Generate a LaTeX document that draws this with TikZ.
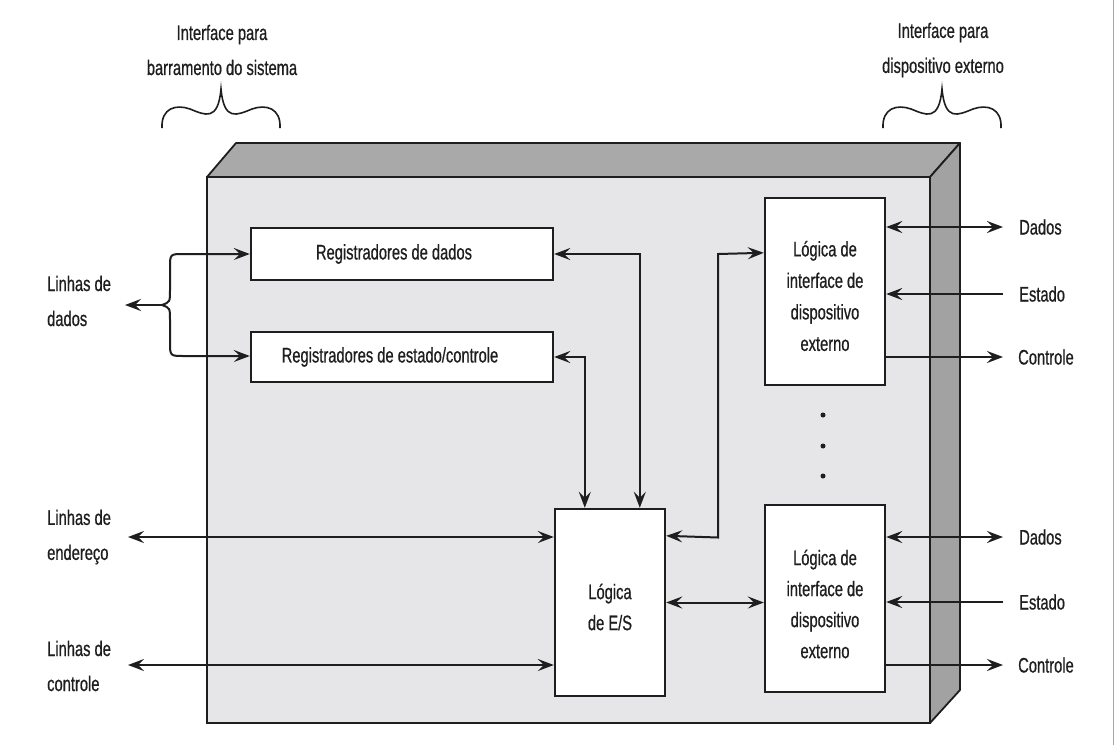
\documentclass[tikz,border=0pt]{standalone}
\usepackage{fontspec}
\setmainfont{Liberation Sans}[FakeStretch=0.70,FakeBold=0.6]
\usetikzlibrary{arrows.meta,calc}
\definecolor{frontc}{HTML}{E6E6E8}
\definecolor{topc}{HTML}{A9A9AA}
\definecolor{sidec}{HTML}{A2A2A3}
\definecolor{inkc}{HTML}{1E1E1E}
\tikzset{
  box/.style={draw=inkc,line width=2.4pt,fill=white,inner sep=0pt},
  conn/.style={draw=inkc,line width=2pt},
  tipA/.tip={Stealth[length=16pt,width=12pt,inset=6pt]},
  lbl/.style={text=inkc,font=\fontsize{21}{35}\selectfont,inner sep=0pt},
}
\begin{document}
\begin{tikzpicture}[x=1pt,y=-1pt]
\useasboundingbox (0,0) rectangle (1115,745);
\fill[white] (0,0) rectangle (1115,745);
\draw[gray!70,line width=1pt] (1113.5,0) -- (1113.5,745);
% 3D box
\filldraw[fill=topc,draw=inkc,line width=1.8pt,line join=round] (207,177) -- (236,143) -- (960,143) -- (930,177) -- cycle;
\filldraw[fill=sidec,draw=inkc,line width=1.8pt,line join=round] (930,177) -- (960,143) -- (960,690) -- (930,723) -- cycle;
\filldraw[fill=frontc,draw=inkc,line width=2.4pt] (207,177) rectangle (930,723);
% braces
\draw[inkc,line width=1.6pt] (162,128) .. controls (161,108) and (176,104) .. (190,109) .. controls (205,115) and (218,122) .. (221,89) .. controls (224,122) and (237,115) .. (252,109) .. controls (266,104) and (281,108) .. (280,128);
\draw[inkc,line width=1.6pt] (883,128) .. controls (882,108) and (897,104) .. (911,109) .. controls (926,115) and (939,122) .. (942,89) .. controls (945,122) and (958,115) .. (973,109) .. controls (987,104) and (1002,108) .. (1001,128);
\node[lbl,align=center] (tl) at (222,50) {Interface para\\barramento do sistema};
\node[lbl,align=center] (tr) at (943,50) {Interface para\\dispositivo externo};
% inner boxes
\node[box,minimum width=302pt,minimum height=52pt] (reg1) at (402,254) {};
\node[lbl] at ($(reg1.center)+(-8,0)$) {Registradores de dados};
\node[box,minimum width=302pt,minimum height=50pt] (reg2) at (402,357) {};
\node[lbl] at ($(reg2.center)+(-12,0)$) {Registradores de estado/controle};
\node[box,minimum width=110pt,minimum height=187pt] (es) at (610,602.5) {};
\node[lbl,align=center,font=\fontsize{21}{31}\selectfont] at (610,607) {Lógica\\de E/S};
\node[box,minimum width=120pt,minimum height=187pt] (ext1) at (825,291.5) {};
\node[lbl,align=center,font=\fontsize{21}{31.5}\selectfont] at (825,296) {Lógica de\\interface de\\dispositivo\\externo};
\node[box,minimum width=120pt,minimum height=187pt] (ext2) at (825,598.5) {};
\node[lbl,align=center,font=\fontsize{21}{31}\selectfont] at (825,604) {Lógica de\\interface de\\dispositivo\\externo};
% dots
\foreach \yy in {415,446,476} \fill[inkc] (823,\yy) circle (2.5pt);
% left labels
\node[lbl,align=left,anchor=west] (ld) at (47,301) {Linhas de\\dados};
\node[lbl,align=left,anchor=west] (le) at (47,537) {Linhas de\\endereço};
\node[lbl,align=left,anchor=west] (lc) at (47,666) {Linhas de\\controle};
\coordinate (dj) at (162,305);
\coordinate (dt) at (125,305);
\coordinate (at) at (128,537);
\coordinate (ct) at (128,665);
\draw[conn,-tipA] (dj) -- (dt);
\draw[conn,-tipA] (dj) .. controls (170,302) .. (170,290) -- (170,268) .. controls (170,254) .. (184,254) -- (reg1.west);
\draw[conn,-tipA] (dj) .. controls (170,308) .. (170,320) -- (170,342) .. controls (170,356) .. (184,356) -- ($(reg2.west)+(0,-1)$);
\draw[conn,tipA-tipA] (at) -- (at -| es.west);
\draw[conn,tipA-tipA] (ct) -- (ct -| es.west);
% inner connectors
\draw[conn,tipA-tipA] (reg1.east) -| ($(es.north west)+(86,0)$);
\draw[conn,tipA-tipA] (reg2.east) -| ($(es.north west)+(31,0)$);
\draw[conn,tipA-tipA] ($(es.north east)+(0,28)$) -- (718,537.5) -- (718,254) -- ($(ext1.north west)+(0,56)$);
\draw[conn,tipA-tipA] (es.east) -- (es.east -| ext2.west);
% right side
\foreach \b/\da/\ea/\ca/\n in {ext1/227/294/357/a, ext2/537/602/665/b}{
  \coordinate (d\n) at (1003,\da);
  \coordinate (e\n) at (1003,\ea);
  \coordinate (c\n) at (1003,\ca);
  \draw[conn,tipA-tipA] (d\n -| \b.east) -- (d\n);
  \draw[conn,-tipA] (e\n) -- (e\n -| \b.east);
  \draw[conn,-tipA] (c\n -| \b.east) -- (c\n);
  \node[lbl,anchor=west] at (1019,\da) {Dados};
  \node[lbl,anchor=west] at (1019,\ea) {Estado};
  \node[lbl,anchor=west] at (1018,\ca) {Controle};
}
\end{tikzpicture}
\end{document}
